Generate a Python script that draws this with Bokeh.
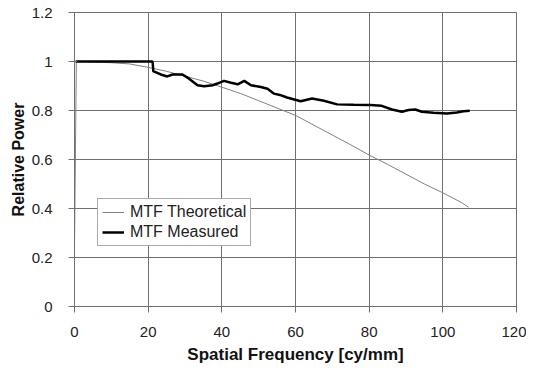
from bokeh.plotting import figure
from bokeh.models import Range1d, Legend, LegendItem, FixedTicker
from bokeh.embed import file_html
from bokeh.resources import INLINE

# Theoretical MTF
theo_x = [0, 0.5, 5, 10, 15, 20, 25, 30, 35, 40, 45, 50, 55, 60, 65, 70, 75, 80, 85, 90, 95, 100, 105, 107]
theo_y = [0.24, 1.0, 0.998, 0.995, 0.99, 0.976, 0.96, 0.94, 0.92, 0.895, 0.87, 0.84, 0.81, 0.78, 0.74, 0.70, 0.66, 0.618, 0.58, 0.54, 0.50, 0.464, 0.425, 0.405]

# Measured MTF
meas_x = [0.3, 5, 10, 15, 20, 21.2, 21.4, 22, 23.4, 25.2, 26.6, 29.3, 31.1, 33.4, 35.2, 37.5, 38.8, 40.6, 42.5, 44.3, 46.1, 47.9, 50.6, 52.4, 54.1, 56.1, 57.7, 61.4, 64.5, 67.7, 71.3, 75.8, 80.3, 83.4, 86.2, 88.9, 90.7, 92.5, 94.3, 97.5, 101.1, 103.8, 105.6, 107.3]
meas_y = [1.0, 1.0, 1.0, 1.0, 1.0, 1.0, 0.96, 0.957, 0.947, 0.939, 0.947, 0.947, 0.93, 0.903, 0.899, 0.903, 0.91, 0.921, 0.913, 0.907, 0.921, 0.903, 0.896, 0.889, 0.869, 0.862, 0.853, 0.838, 0.849, 0.840, 0.825, 0.823, 0.822, 0.819, 0.804, 0.795, 0.802, 0.804, 0.795, 0.791, 0.788, 0.792, 0.797, 0.799]

x_ticks = [0, 20, 40, 60, 80, 100, 120]
y_ticks = [0, 0.2, 0.4, 0.6, 0.8, 1.0, 1.2]

p = figure(width=526, height=366, output_backend="svg", toolbar_location=None,
           x_range=Range1d(0, 120), y_range=Range1d(0, 1.2),
           min_border_left=74, min_border_right=10, min_border_top=12, min_border_bottom=59)
p.background_fill_color = "white"
p.border_fill_color = "white"
p.outline_line_color = "#707070"

r_theo = p.line(theo_x, theo_y, line_color="#808080", line_width=1)
r_meas = p.line(meas_x, meas_y, line_color="black", line_width=2.5)

p.xaxis.ticker = FixedTicker(ticks=x_ticks)
p.yaxis.ticker = FixedTicker(ticks=y_ticks)
p.yaxis.major_label_overrides = {0: "0", 0.2: "0.2", 0.4: "0.4", 0.6: "0.6", 0.8: "0.8", 1.0: "1", 1.2: "1.2"}

for ax in (p.xaxis[0], p.yaxis[0]):
    ax.axis_line_color = "#707070"
    ax.major_tick_line_color = "#707070"
    ax.minor_tick_line_color = None
    ax.major_label_text_font = "Liberation Sans"
    ax.major_label_text_font_size = "15px"
    ax.major_label_text_color = "#222222"
    ax.axis_label_text_font = "Liberation Sans"
    ax.axis_label_text_font_style = "bold"
    ax.axis_label_text_color = "#111111"

p.xaxis.axis_label = "Spatial Frequency [cy/mm]"
p.yaxis.axis_label = "Relative Power"
p.xaxis.axis_label_text_font_size = "17px"
p.yaxis.axis_label_text_font_size = "16px"
p.xaxis.major_tick_in = 0
p.xaxis.major_tick_out = 6
p.yaxis.major_tick_in = 3
p.yaxis.major_tick_out = 6
p.xaxis.major_label_standoff = 14
p.xaxis.axis_label_standoff = 5
p.yaxis.major_label_standoff = 16
p.yaxis.axis_label_standoff = 2

p.xgrid.ticker = FixedTicker(ticks=x_ticks)
p.ygrid.ticker = FixedTicker(ticks=y_ticks)
p.grid.grid_line_color = "#707070"
p.grid.grid_line_width = 1

legend = Legend(items=[LegendItem(label="MTF Theoretical", renderers=[r_theo]),
                       LegendItem(label="MTF Measured", renderers=[r_meas])],
                location=(23, 60))
legend.label_text_font = "Liberation Sans"
legend.label_text_font_size = "16px"
legend.label_text_color = "#222222"
legend.border_line_color = "#555555"
legend.border_line_width = 1
legend.background_fill_alpha = 1
legend.padding = 4
legend.spacing = 2
legend.margin = 0
legend.glyph_width = 22
legend.glyph_height = 18
legend.label_height = 18
legend.label_standoff = 6
p.add_layout(legend)

open("out.html", "w").write(file_html(p, INLINE))
